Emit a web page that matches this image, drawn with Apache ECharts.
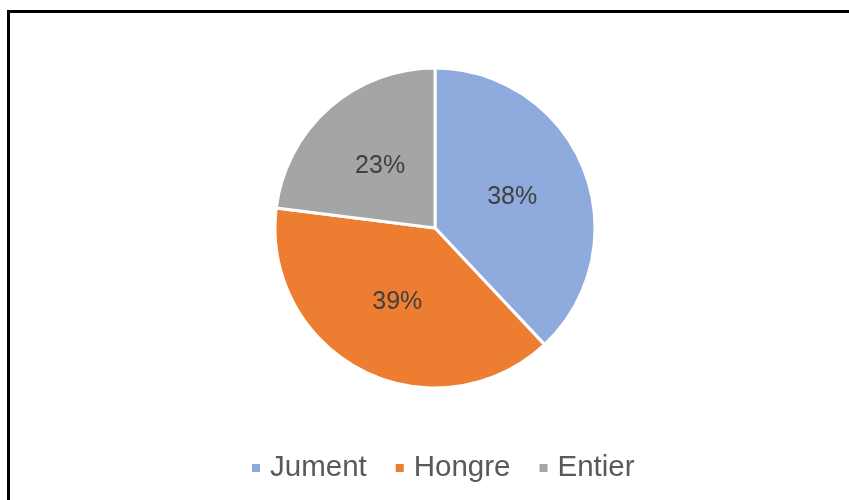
<!DOCTYPE html>
<html>
<head>
<meta charset="utf-8">
<script src="https://cdn.jsdelivr.net/npm/echarts@6/dist/echarts.min.js"></script>
<style>
	html, body { margin: 0; padding: 0; background: #fff; }
	#frame {
		position: absolute; left: 7px; top: 10px;
		width: 860px; height: 510px;
		border: 3px solid #000; box-sizing: border-box;
	}
	#echart { position: absolute; left: 0; top: 0; width: 849px; height: 500px; }
</style>
</head>
<body>
<div id="frame"></div>
<div id="echart"></div>
<script>
	var categories = ['Jument', 'Hongre', 'Entier'];
	var values = [38, 39, 23];
	var colors = ['#8FAADC', '#ED7D31', '#A5A5A5'];

	var myChart = echarts.init(document.getElementById('echart'));
	myChart.setOption({
		animation: false,
		color: colors,
		legend: {
			bottom: 12,
			left: 245,
			itemWidth: 10,
			itemHeight: 10,
			itemGap: 27,
			icon: 'rect',
			textStyle: {
				fontFamily: 'Liberation Sans',
				fontSize: 29.5,
				color: '#595959',
				padding: [0, 0, 0, 4]
			},
			data: categories
		},
		series: [{
			type: 'pie',
			center: [435, 228],
			radius: [0, 160],
			startAngle: 90,
			clockwise: true,
			itemStyle: { borderColor: '#fff', borderWidth: 3 },
			label: {
				position: 'inside',
				formatter: '{d}%',
				fontFamily: 'Liberation Sans',
				fontSize: 25,
				color: '#404040'
			},
			labelLine: { show: false },
			emphasis: { disabled: true },
			data: categories.map(function (c, i) {
				return { name: c, value: values[i] };
			})
		}]
	});
</script>
</body>
</html>
